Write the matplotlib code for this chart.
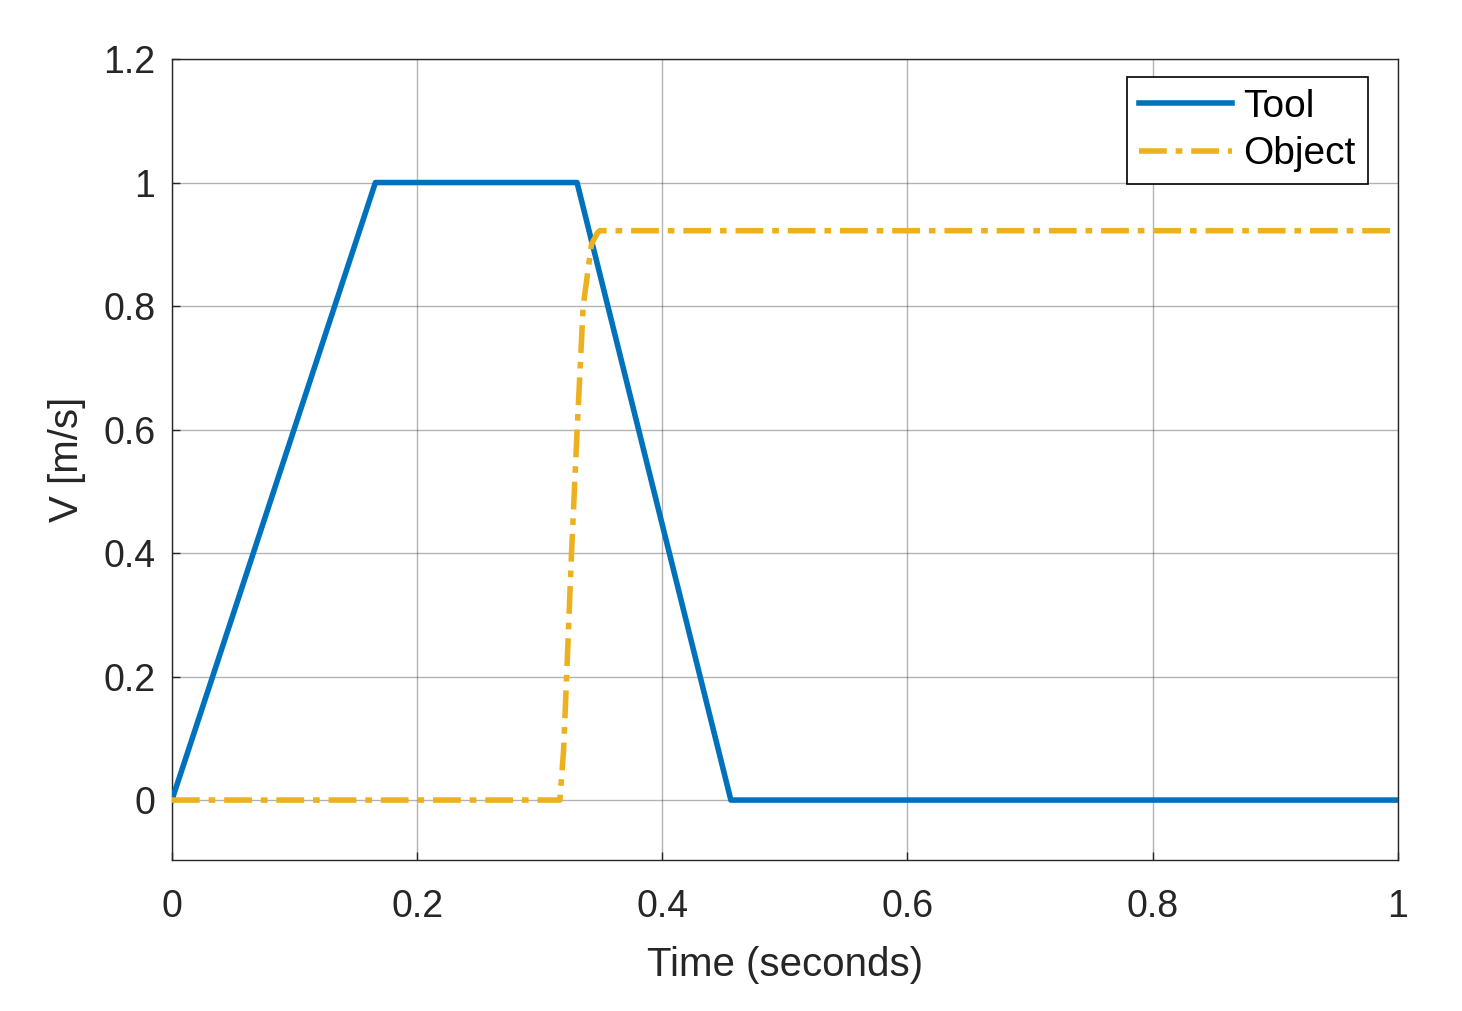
import matplotlib
matplotlib.use("Agg")
import matplotlib.pyplot as plt

# tool velocity profile (trapezoid)
tool_t = [0.0, 0.166, 0.3305, 0.456, 1.0]
tool_v = [0.0, 1.0, 1.0, 0.0, 0.0]

# object velocity (picked up by the tool, then coasting)
object_t = [0.0, 0.3165, 0.3195, 0.322, 0.326, 0.3306, 0.3355, 0.3423, 0.347, 0.349, 1.0]
object_v = [0.0, 0.0, 0.08, 0.2, 0.4, 0.6, 0.8, 0.90, 0.918, 0.922, 0.922]

x_ticks = [0, 0.2, 0.4, 0.6, 0.8, 1]
x_labels = ["0", "0.2", "0.4", "0.6", "0.8", "1"]
y_ticks = [0, 0.2, 0.4, 0.6, 0.8, 1, 1.2]
y_labels = ["0", "0.2", "0.4", "0.6", "0.8", "1", "1.2"]

plt.rcParams['font.family'] = ['Liberation Sans', 'DejaVu Sans']

fig = plt.figure(figsize=(14.62, 10.11), dpi=100)
ax = fig.add_axes([0.1176, 0.1494, 0.956 - 0.1176, 0.9416 - 0.1494])

ax.plot(tool_t, tool_v, color='#0072BD', lw=4, label='Tool', zorder=3)
ax.plot(object_t, object_v, color='#EDB120', lw=4, label='Object',
        linestyle=(0, (5, 1.6, 1.2, 1.6)), zorder=3)

ax.set_xlim(0, 1)
ax.set_ylim(-0.097, 1.2)
ax.set_xticks(x_ticks)
ax.set_xticklabels(x_labels)
ax.set_yticks(y_ticks)
ax.set_yticklabels(y_labels)
ax.tick_params(direction='in', length=6, width=1, labelsize=27, color='#262626',
               labelcolor='#262626')
ax.tick_params(axis='x', pad=21)
ax.tick_params(axis='y', pad=12)
ax.grid(True, color='#262626', alpha=0.35, lw=1)
for s in ax.spines.values():
    s.set_color('#262626')
    s.set_linewidth(1)

ax.set_xlabel('Time (seconds)', fontsize=29, color='#262626', labelpad=15)
ax.set_ylabel('V [m/s]', fontsize=29, color='#262626', labelpad=12)

leg = ax.legend(loc='upper right', bbox_to_anchor=(0.9755, 0.9775), fontsize=28,
                fancybox=False, framealpha=1, edgecolor='black', borderaxespad=0,
                handlelength=2.4, handletextpad=0.3, borderpad=0.3, labelspacing=0.3)
leg.get_frame().set_linewidth(1.2)

fig.savefig('out.png', dpi=100)
